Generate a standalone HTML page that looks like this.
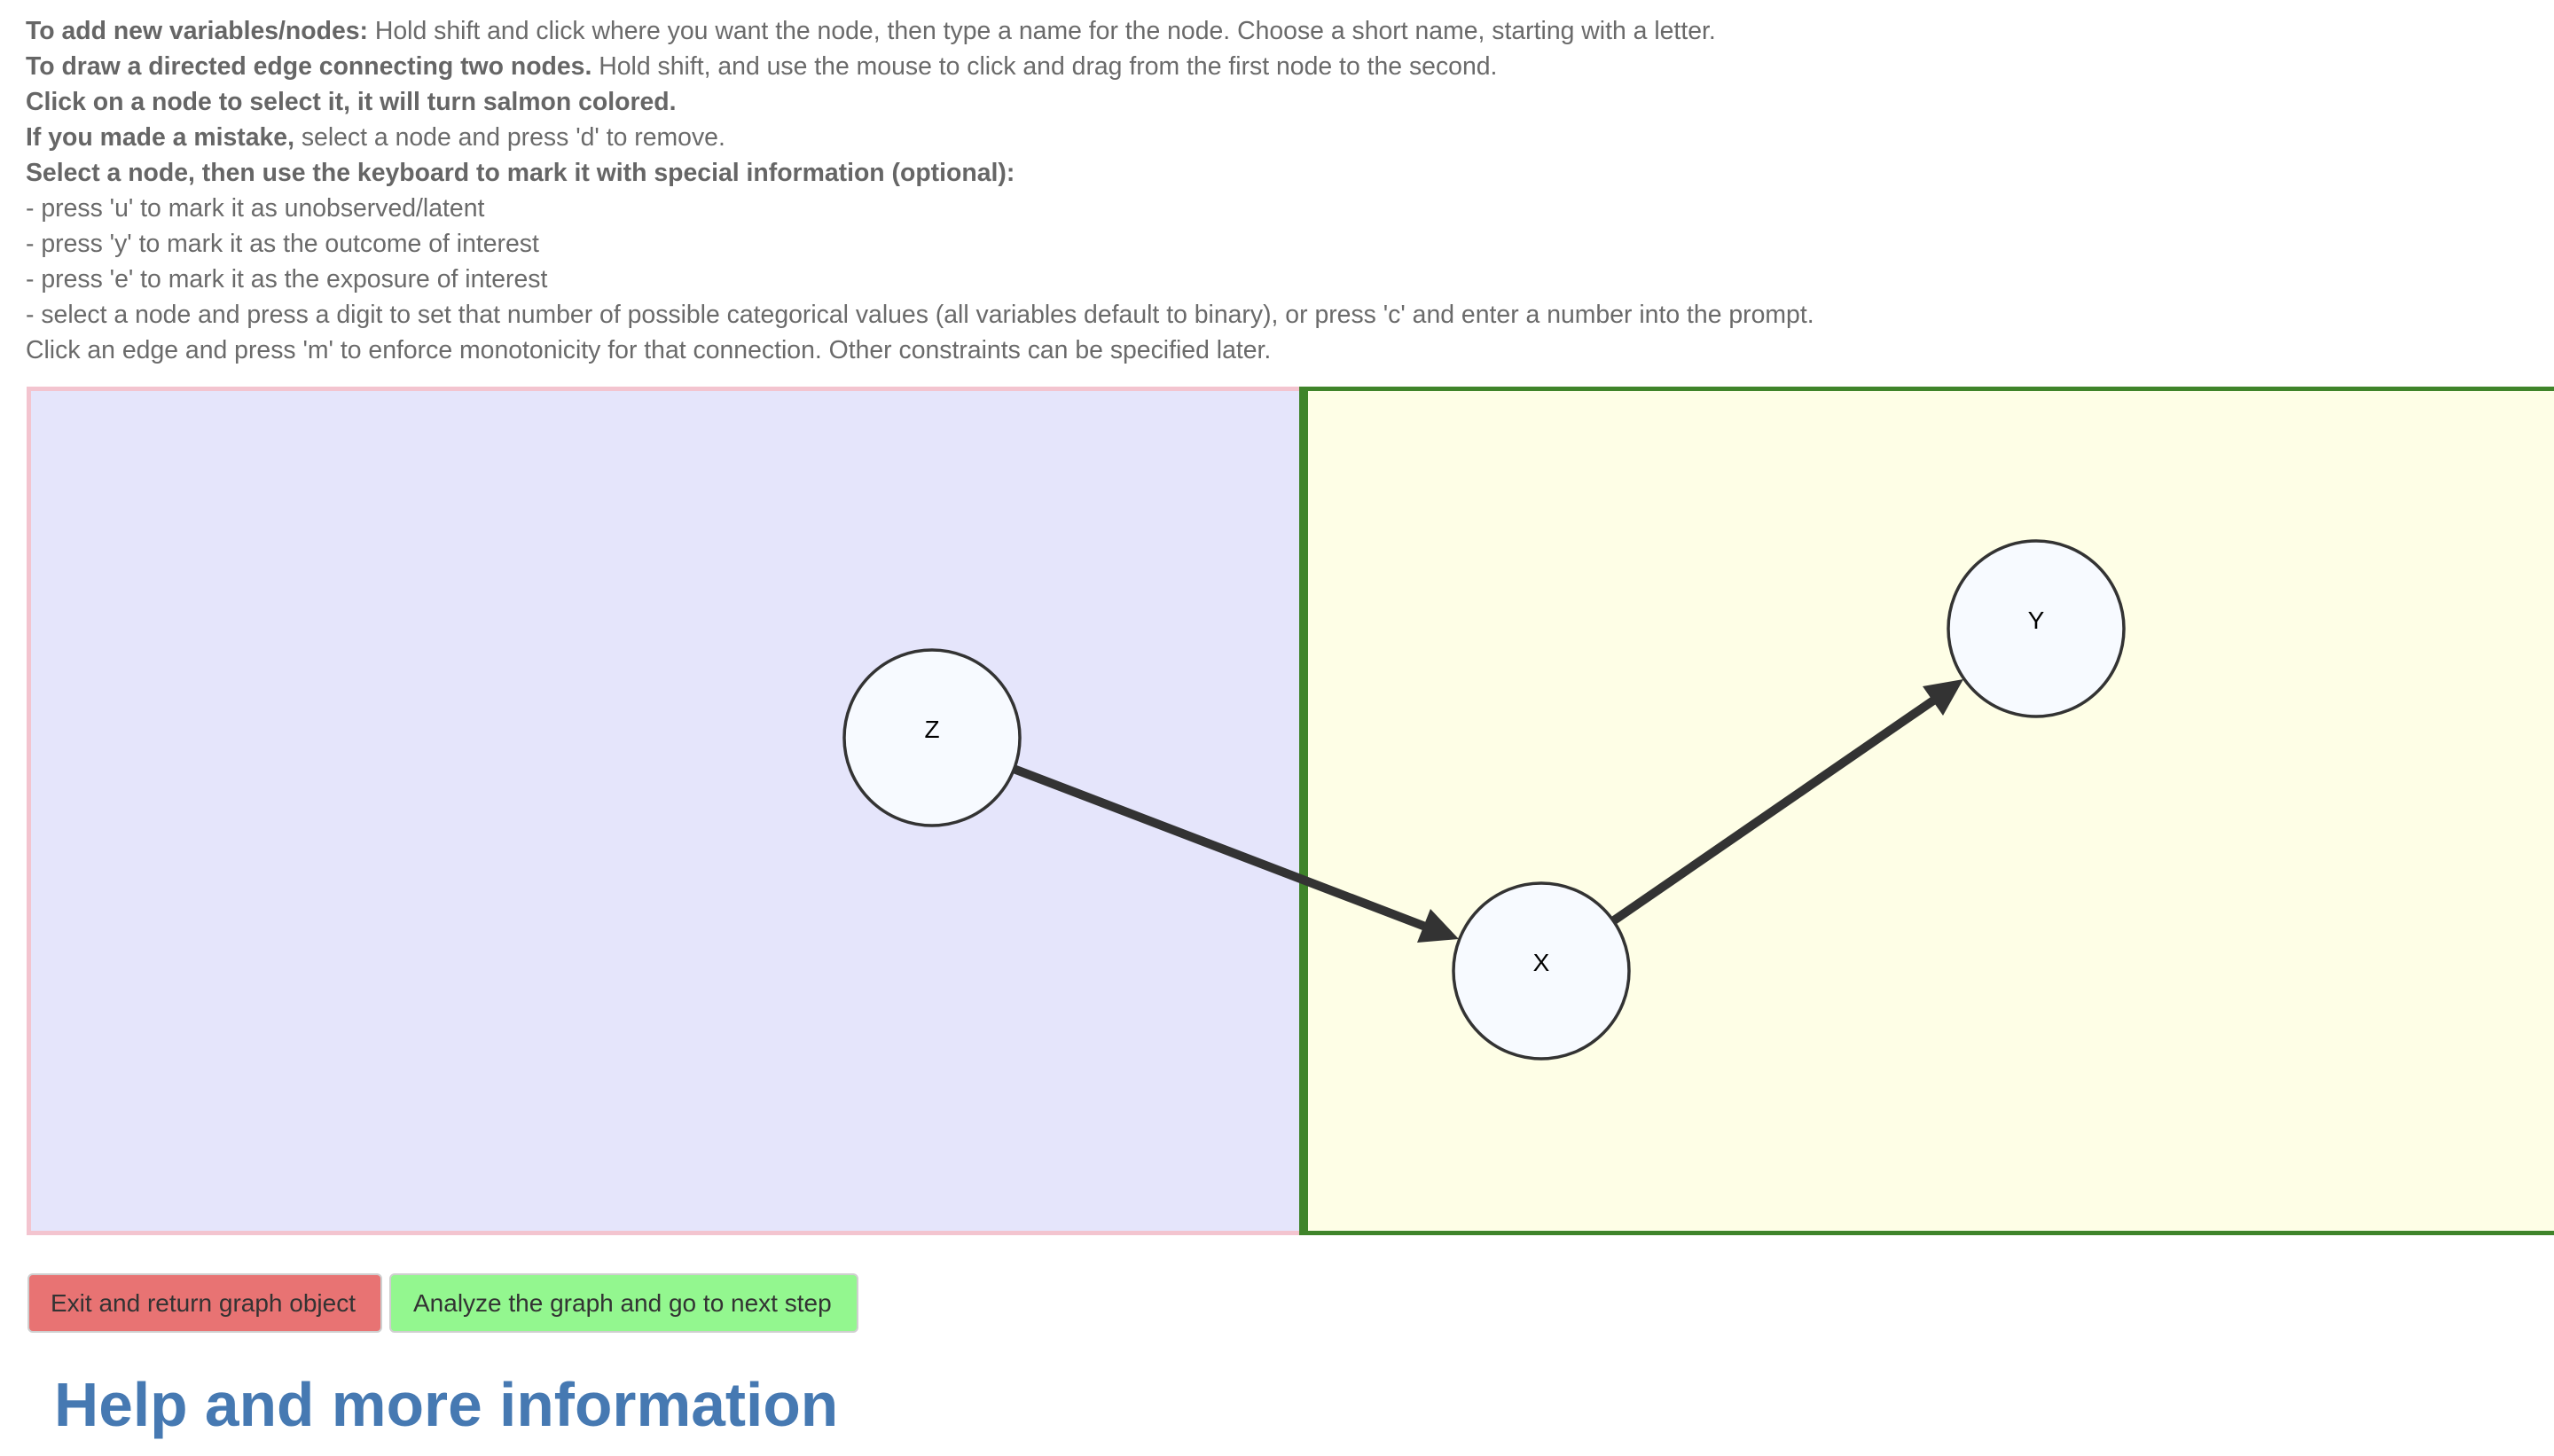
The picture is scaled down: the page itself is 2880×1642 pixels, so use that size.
<!DOCTYPE html>
<html><head><meta charset="utf-8"><style>
html,body{margin:0;padding:0;background:#fff;width:2880px;height:1642px;overflow:hidden;font-family:"Liberation Sans",Arial,sans-serif;}
.t{position:absolute;left:29px;font-size:28.4px;color:#6a6a6a;white-space:nowrap;}
b{color:#666;}
.btn{position:absolute;top:1436px;height:63px;border:2px solid #cfcfcf;border-radius:6px;font-size:28px;color:#333;line-height:63px;box-sizing:content-box;white-space:nowrap;}
</style></head><body>
<div class="t" style="top:19px"><b>To add new variables/nodes:</b> Hold shift and click where you want the node, then type a name for the node. Choose a short name, starting with a letter.</div>
<div class="t" style="top:59px"><b>To draw a directed edge connecting two nodes.</b> Hold shift, and use the mouse to click and drag from the first node to the second.</div>
<div class="t" style="top:99px"><b>Click on a node to select it, it will turn salmon colored.</b></div>
<div class="t" style="top:139px"><b>If you made a mistake,</b> select a node and press 'd' to remove.</div>
<div class="t" style="top:179px"><b>Select a node, then use the keyboard to mark it with special information (optional):</b></div>
<div class="t" style="top:219px">- press 'u' to mark it as unobserved/latent</div>
<div class="t" style="top:259px">- press 'y' to mark it as the outcome of interest</div>
<div class="t" style="top:299px">- press 'e' to mark it as the exposure of interest</div>
<div class="t" style="top:339px">- select a node and press a digit to set that number of possible categorical values (all variables default to binary), or press 'c' and enter a number into the prompt.</div>
<div class="t" style="top:379px">Click an edge and press 'm' to enforce monotonicity for that connection. Other constraints can be specified later.</div>
<svg style="position:absolute;left:0;top:0" width="2880" height="1642">
<rect x="32.5" y="438.5" width="1436" height="952" fill="#e5e5fb" stroke="#f3c4cf" stroke-width="5"/>
<rect x="1470" y="438.5" width="1420" height="952" fill="#fefee6" stroke="#3f842a" stroke-width="5"/>
<rect x="1465" y="436" width="10" height="957" fill="#3f842a"/>
<line x1="1143" y1="867" x2="1610" y2="1046" stroke="#333" stroke-width="10"/>
<polygon points="1645,1059 1598,1063 1613,1025" fill="#333"/>
<line x1="1820" y1="1038" x2="2183" y2="788" stroke="#333" stroke-width="10"/>
<polygon points="2214,766 2191,807 2168,774" fill="#333"/>
<g fill="#f7faff" stroke="#333" stroke-width="3.5">
<circle cx="1051" cy="832" r="99"/>
<circle cx="1738" cy="1095" r="99"/>
<circle cx="2296" cy="709" r="99"/>
</g>
<g font-family="Liberation Sans, Arial, sans-serif" font-size="28" fill="#000" text-anchor="middle">
<text x="1051" y="832">Z</text>
<text x="1738" y="1095">X</text>
<text x="2296" y="709">Y</text>
</g>
</svg>
<div class="btn" style="left:31px;width:396px;background:#e87373;"><span style="padding-left:24px">Exit and return graph object</span></div>
<div class="btn" style="left:439px;width:525px;background:#93f78f;"><span style="padding-left:25px">Analyze the graph and go to next step</span></div>
<div style="position:absolute;left:61px;top:1544px;font-size:69.5px;font-weight:bold;color:#4679b2;white-space:nowrap;">Help and more information</div>
</body></html>
